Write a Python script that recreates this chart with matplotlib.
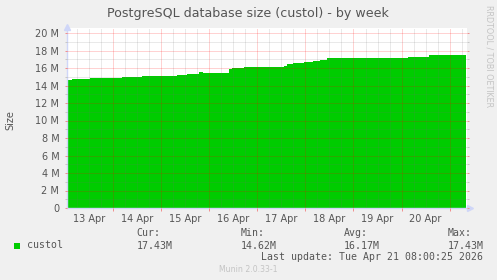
import numpy as np
import matplotlib
matplotlib.use("Agg")
import matplotlib.pyplot as plt
from matplotlib.ticker import FixedLocator, FuncFormatter

# hours since 13 Apr 00:00 where the size steps, and the size (M) from then on
step_hours = [1, 3.5, 12.5, 28.5, 38.5, 56, 61, 67, 69, 82, 83.5, 89.5,
              109.5, 111, 114, 119.5, 124, 127.5, 131, 171, 181.5]
size_mb = [14.62, 14.71, 14.86, 14.97, 15.09, 15.2, 15.31, 15.54, 15.46, 15.85,
           15.97, 16.12, 16.26, 16.42, 16.54, 16.65, 16.83, 16.95, 17.1, 17.22, 17.43]
last_hour = 200.1
day_labels = ["13 Apr", "14 Apr", "15 Apr", "16 Apr", "17 Apr", "18 Apr", "19 Apr", "20 Apr"]
y_ticks = [0, 2, 4, 6, 8, 10, 12, 14, 16, 18, 20]

stats_names = ["Cur:", "Min:", "Avg:", "Max:"]
stats_values = ["17.43M", "14.62M", "16.17M", "17.43M"]

BG = "#F0F0F0"
FONT = "#555555"
AXIS = "#CFD6F8"
GREEN = "#00CC00"

W, H = 497, 280
fig = plt.figure(figsize=(W / 100, H / 100), dpi=100, facecolor=BG)
ax = fig.add_axes([67 / W, 72 / H, 400 / W, 180 / H])
ax.set_facecolor("white")

x = np.array(step_hours + [last_hour])
y = np.array(size_mb + [size_mb[-1]])
ax.fill_between(x, y, step="post", color=GREEN, linewidth=0, zorder=1)

px_h = 24 / 48.1
ax.set_xlim(1.05, 1.05 + 400 * px_h)
ax.set_ylim(0, 20 * 180 / 175)

# grid: red at days / 2M, gray dotted at 6h / 1M
ax.xaxis.set_major_locator(FixedLocator([24 * d for d in range(1, 9)]))
ax.xaxis.set_minor_locator(FixedLocator([h for h in range(6, 204, 6) if h % 24]))
ax.xaxis.set_major_formatter(FuncFormatter(lambda v, p: ""))
ax.xaxis.set_minor_formatter(FuncFormatter(
    lambda v, p: day_labels[int(v) // 24] if int(v) % 24 == 12 and int(v) // 24 < len(day_labels) else ""))
ax.yaxis.set_major_locator(FixedLocator(y_ticks))
ax.yaxis.set_minor_locator(FixedLocator([v + 1 for v in y_ticks[:-1]]))
ax.yaxis.set_major_formatter(FuncFormatter(lambda v, p: "0" if v == 0 else "%d M" % v))

# 1 px on / 1 px off dots (dashes scale with linewidth)
dots = (0, (1, 1))
ax.set_axisbelow(False)
ax.grid(which="major", color="#FF0000", alpha=0.35, linestyle=dots, linewidth=0.72, snap=True)
ax.grid(which="minor", color="#707070", alpha=0.3, linestyle=dots, linewidth=0.72, snap=True)

ax.tick_params(axis="both", which="both", direction="out", labelsize=7, labelcolor=FONT, width=0.72)
ax.tick_params(axis="y", which="major", length=1.5, color="#F09090", right=True, pad=4)
ax.tick_params(axis="y", which="minor", length=1.5, color="#C8C8C8", right=True)
ax.tick_params(axis="x", which="major", length=2, color="#F09090")
ax.tick_params(axis="x", which="minor", length=0, pad=4)

for s in ["top", "right"]:
    ax.spines[s].set_visible(False)
for s in ["left", "bottom"]:
    ax.spines[s].set_color(AXIS)
    ax.spines[s].set_linewidth(1)
ax.plot([0], [1.005], marker="^", markersize=4, color=AXIS, transform=ax.transAxes, clip_on=False)
ax.plot([1.008], [0], marker=">", markersize=4, color=AXIS, transform=ax.transAxes, clip_on=False)

def fx(px):
    return px / W

def fy(py):
    return 1 - py / H

fig.text(fx(248), fy(13), "PostgreSQL database size (custol) - by week",
         ha="center", va="center", fontsize=9.1, color=FONT)
fig.text(fx(10), fy(120), "Size", rotation=90, ha="center", va="center", fontsize=7, color=FONT)
fig.text(fx(489.5), fy(5), "RRDTOOL / TOBI OETIKER", rotation=270, ha="center", va="top",
         fontsize=5.8, color="#C4C4C4")

mono = "DejaVu Sans Mono"
fig.patches.append(plt.Rectangle((fx(14), fy(248.5)), 6 / W, 6 / H, transform=fig.transFigure,
                                 facecolor=GREEN, edgecolor="none"))
fig.text(fx(27), fy(245.5), "custol", family=mono, fontsize=7.1, color=FONT, va="center")
for xp, name, val in zip([136.7, 240.5, 343.5, 447.3], stats_names, stats_values):
    fig.text(fx(xp), fy(233.3), name, family=mono, fontsize=7.1, color=FONT, va="center")
    fig.text(fx(xp), fy(245.7), val, family=mono, fontsize=7.1, color=FONT, va="center")
fig.text(fx(483), fy(257.3), "Last update: Tue Apr 21 08:00:25 2026", family=mono, fontsize=7.1,
         color=FONT, ha="right", va="center")
fig.text(fx(248.5), fy(269), "Munin 2.0.33-1", fontsize=5.6, color="#C4C4C4", ha="center", va="center")

fig.savefig("out.png", dpi=100, facecolor=BG)
